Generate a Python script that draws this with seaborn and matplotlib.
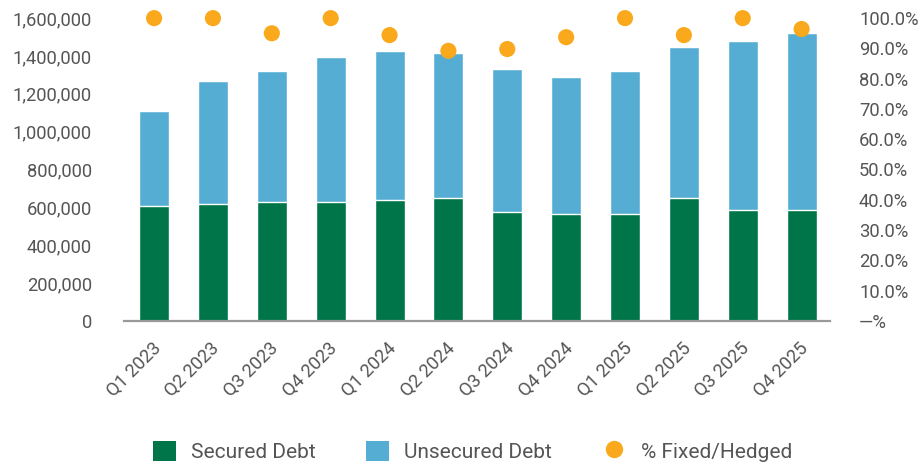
import matplotlib
matplotlib.use("Agg")
import matplotlib.pyplot as plt
import matplotlib.ticker as mticker
import matplotlib.transforms as mtransforms
from matplotlib.lines import Line2D
from matplotlib.patches import Patch
import pandas as pd
import seaborn as sns

quarters = ["Q1 2023", "Q2 2023", "Q3 2023", "Q4 2023", "Q1 2024", "Q2 2024",
            "Q3 2024", "Q4 2024", "Q1 2025", "Q2 2025", "Q3 2025", "Q4 2025"]
secured = [607000, 618000, 628000, 628000, 639000, 649000,
           577000, 566000, 566000, 649000, 586000, 586000]
unsecured = [503000, 649000, 692000, 766000, 787000, 766000,
             754000, 722000, 754000, 798000, 892000, 935000]
pct_fixed = [100.0, 100.0, 95.0, 100.0, 94.4, 89.2,
             89.8, 93.7, 100.0, 94.4, 100.0, 96.4]

GREEN = "#00754A"
BLUE = "#56ADD4"
ORANGE = "#F9A91B"
TEXT = "#555555"

sns.set_style("white")
plt.rcParams["font.family"] = ["Roboto", "DejaVu Sans"]

df = pd.DataFrame({"quarter": quarters, "secured": secured, "unsecured": unsecured,
                   "pct": pct_fixed})
df["total"] = df["secured"] + df["unsecured"]

fig = plt.figure(figsize=(9.19, 4.65), dpi=100)
ax = fig.add_axes([0.135, 0.310, 0.768, 0.651])

# stacked bars: draw total in blue, secured in green over it
sns.barplot(data=df, x="quarter", y="total", color=BLUE, width=0.51,
            saturation=1, ax=ax)
sns.barplot(data=df, x="quarter", y="secured", color=GREEN, width=0.51,
            saturation=1, ax=ax)

XLIM = (-0.51, 11.48)
ax.set_ylim(0, 1600000)
ax.set_xlim(*XLIM)
ax.yaxis.set_major_locator(mticker.MultipleLocator(200000))
ax.yaxis.set_major_formatter(mticker.FuncFormatter(lambda v, p: f"{v:,.0f}"))
ax.set_xlabel("")
ax.set_ylabel("")
for s in ["top", "right", "left"]:
    ax.spines[s].set_visible(False)
ax.spines["bottom"].set_color("#999999")
ax.spines["bottom"].set_linewidth(1.6)
ax.tick_params(axis="y", length=0, pad=23, labelsize=13.2, labelcolor=TEXT)
ax.tick_params(axis="x", length=0, pad=18, labelsize=13.2, labelcolor=TEXT)
shift = mtransforms.ScaledTranslation(4 / 100, 0, fig.dpi_scale_trans)
for lbl in ax.get_xticklabels():
    lbl.set_rotation(45)
    lbl.set_ha("right")
    lbl.set_va("center")
    lbl.set_rotation_mode("anchor")
    lbl.set_transform(lbl.get_transform() + shift)

ax2 = ax.twinx()
sns.scatterplot(x=list(range(len(quarters))), y=df["pct"], color=ORANGE, s=135,
                edgecolor="none", ax=ax2, clip_on=False, zorder=5)
ax2.set_ylim(0, 100)
ax2.set_xlim(*XLIM)
ax2.yaxis.set_major_locator(mticker.MultipleLocator(10))
ax2.yaxis.set_major_formatter(
    mticker.FuncFormatter(lambda v, p: "\u2014%" if v == 0 else f"{v:.1f}%"))
ax2.set_ylabel("")
for s in ["top", "right", "left", "bottom"]:
    ax2.spines[s].set_visible(False)
ax2.tick_params(axis="y", length=0, pad=21, labelsize=13.2, labelcolor=TEXT)

handles = [
    Patch(facecolor=GREEN, edgecolor="none", label="Secured Debt"),
    Patch(facecolor=BLUE, edgecolor="none", label="Unsecured Debt"),
    Line2D([0], [0], marker="o", linestyle="none", markerfacecolor=ORANGE,
           markeredgecolor="none", markersize=12.5, label="% Fixed/Hedged"),
]
leg = fig.legend(handles=handles, loc="center", bbox_to_anchor=(0.514, 0.03), ncol=3,
                 frameon=False, fontsize=15, handlelength=1.1, handleheight=1.1,
                 handletextpad=0.75, columnspacing=2.4, borderpad=0)
for t in leg.get_texts():
    t.set_color(TEXT)

fig.savefig("out.png", dpi=100)
